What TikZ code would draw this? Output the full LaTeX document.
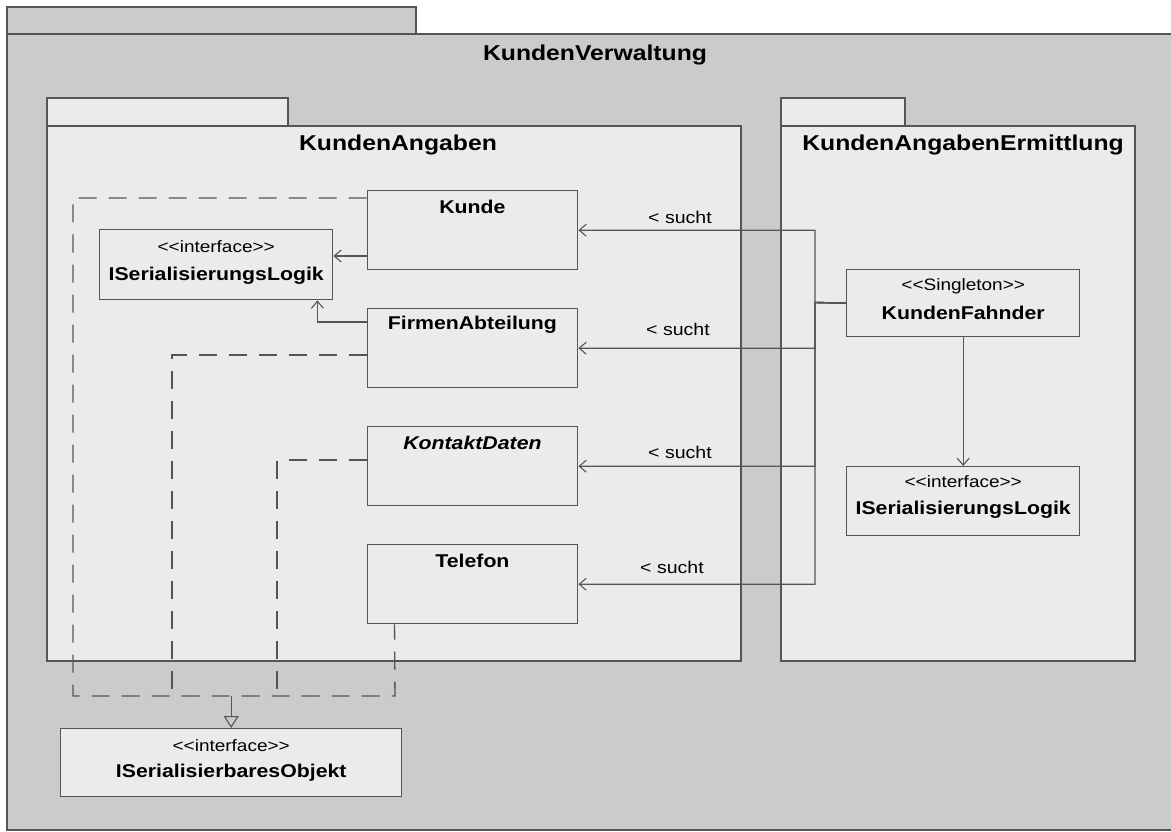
\documentclass[tikz,border=0pt]{standalone}
\usepackage{fontspec}
\setmainfont[FakeStretch=1.15,Ligatures=TeXOff]{Liberation Sans}
\usetikzlibrary{arrows.meta}

\definecolor{outerc}{HTML}{CBCBCB}
\definecolor{innerc}{HTML}{EBEBEB}
\definecolor{linec}{HTML}{555555}

\tikzset{
  pkgline/.style={draw=linec, line width=1.5pt},
  pkgtitle/.style={font=\fontsize{21.5}{24}\selectfont\bfseries, inner sep=0pt},
  cname/.style={font=\fontsize{18.5}{21}\selectfont\bfseries, inner sep=0pt},
  stereo/.style={font=\fontsize{16.5}{19}\selectfont, inner sep=0pt},
  roletext/.style={font=\fontsize{17}{19}\selectfont, inner sep=0pt},
  classbox/.style={draw=linec, fill=innerc, line width=1.4pt, inner sep=0pt,
    anchor=north west, minimum width=210.5pt, minimum height=79pt},
  ifbox/.style={draw=linec, fill=innerc, line width=1.4pt, inner sep=0pt,
    anchor=north west},
  assoc/.style={draw=linec, line width=1.4pt,
    -{Straight Barb[length=7pt,width=12pt,line width=1.1pt]}},
  realize/.style={draw=linec, line width=1.4pt, dash pattern=on 18pt off 12pt},
  gen/.style={draw=linec, line width=1.4pt,
    -{Triangle[open,length=12pt,width=15pt,line width=1.1pt]}},
}

\begin{document}
\begin{tikzpicture}[x=1pt,y=-1pt]
\useasboundingbox (0,0) rectangle (1171,832);
\fill[white] (0,0) rectangle (1171,832);
\clip (0,0) rectangle (1171,832);

% package KundenVerwaltung
\filldraw[fill=outerc, pkgline] (7,7) rectangle (416,34);
\filldraw[fill=outerc, pkgline] (7,34) rectangle (1200,830);
\node[pkgtitle] (pkgKV) at (595,55) {KundenVerwaltung};

% package KundenAngaben
\filldraw[fill=innerc, pkgline] (47,98) rectangle (288,126);
\filldraw[fill=innerc, pkgline] (47,126) rectangle (741,661);
\node[pkgtitle] (pkgKA) at (398,145) {KundenAngaben};

% package KundenAngabenErmittlung
\filldraw[fill=innerc, pkgline] (781,98) rectangle (905,126);
\filldraw[fill=innerc, pkgline] (781,126) rectangle (1135,661);
\node[pkgtitle] (pkgKAE) at (963,145) {KundenAngabenErmittlung};

% classes in KundenAngaben
\node[classbox] (kunde) at (366.5,190) {};
\node[cname] (kunde-n) at ([yshift=-17pt]kunde.north) {Kunde};
\node[classbox] (fa) at (366.5,308) {};
\node[cname] (fa-n) at ([yshift=-17pt]fa.north) {FirmenAbteilung};
\node[classbox] (kd) at (366.5,426) {};
\node[cname, font=\fontsize{18.5}{21}\selectfont\bfseries\itshape] (kd-n) at ([yshift=-17pt]kd.north) {KontaktDaten};
\node[classbox] (tel) at (366.5,544) {};
\node[cname] (tel-n) at ([yshift=-17pt]tel.north) {Telefon};

\node[ifbox, minimum width=233pt, minimum height=70pt] (isl) at (99,229) {};
\node[stereo] (isl-s) at ([yshift=-18pt]isl.north) {<<interface>>};
\node[cname] (isl-n) at ([yshift=-47pt]isl.north) {ISerialisierungsLogik};

% classes in KundenAngabenErmittlung
\node[ifbox, minimum width=233pt, minimum height=67pt] (kf) at (846,269) {};
\node[stereo] (kf-s) at ([yshift=-17pt]kf.north) {<<Singleton>>};
\node[cname] (kf-n) at ([yshift=-44pt]kf.north) {KundenFahnder};

\node[ifbox, minimum width=233pt, minimum height=69pt] (isr) at (846,466) {};
\node[stereo] (isr-s) at ([yshift=-16pt]isr.north) {<<interface>>};
\node[cname] (isr-n) at ([yshift=-44pt]isr.north) {ISerialisierungsLogik};

% interface below the packages
\node[ifbox, minimum width=341pt, minimum height=68pt] (iso) at (60,728) {};
\node[stereo] (iso-s) at ([yshift=-18pt]iso.north) {<<interface>>};
\node[cname] (iso-n) at ([yshift=-45pt]iso.north) {ISerialisierbaresObjekt};

% associations "sucht"
\coordinate (bus) at (815,302.5);
\draw[assoc] (kf.west) -- (bus) |- (kunde.east);
\draw[assoc] (kf.west) -- (bus) |- (fa.east);
\draw[assoc] (kf.west) -- (bus) |- (kd.east);
\draw[assoc] (kf.west) -- (bus) |- (tel.east);
\node[roletext] (r1) at (680,217) {< sucht};
\node[roletext] (r2) at (678,329) {< sucht};
\node[roletext] (r3) at (680,452) {< sucht};
\node[roletext] (r4) at (672,567) {< sucht};

\draw[assoc] (kf.south) -- (isr.north);

% uses of ISerialisierungsLogik
\coordinate (k1) at ([yshift=-66pt]kunde.north west);
\draw[assoc] (k1) -- (k1 -| isl.east);
\coordinate (f1) at ([yshift=-14pt]fa.north west);
\coordinate (f2) at ([xshift=-16pt]isl.south east);
\draw[assoc] (f1) -| (f2);

% realizations of ISerialisierbaresObjekt
\coordinate (k2) at ([yshift=-8pt]kunde.north west);
\coordinate (bl) at (73,696);
\coordinate (br) at (395,696);
\coordinate (t1) at ([xshift=28pt]tel.south west);
\draw[realize] (k2) -| (bl) -- (br) -- (t1);
\coordinate (f3) at ([yshift=-47pt]fa.north west);
\draw[realize] (f3) -| (172,696);
\coordinate (d3) at ([yshift=-34pt]kd.north west);
\draw[realize] (d3) -| (277,696);
\coordinate (merge) at (iso.north |- bl);
\draw[gen] (merge) -- (iso.north);
\end{tikzpicture}
\end{document}
